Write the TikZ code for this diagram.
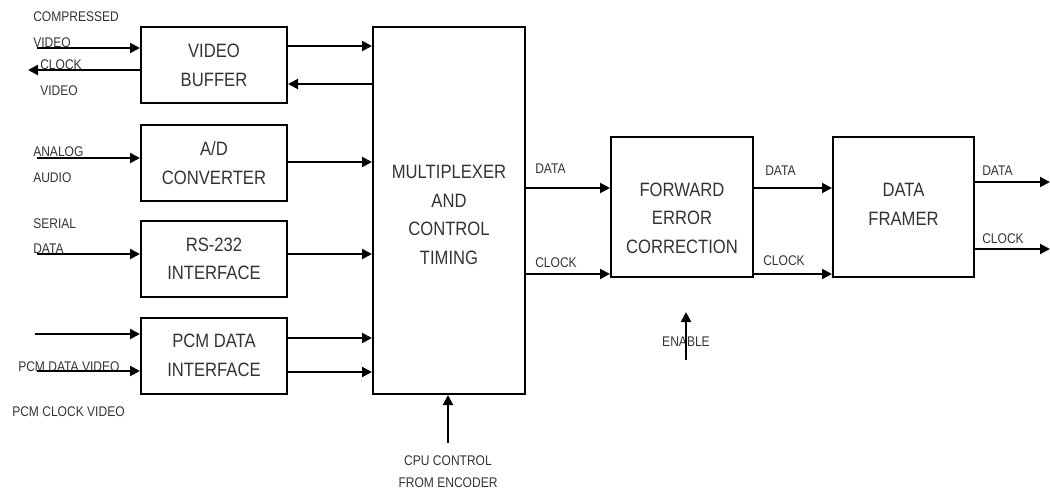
\documentclass[tikz,border=0pt]{standalone}
\usepackage{fontspec}
\setmainfont{Liberation Sans}[FakeStretch=0.86]
\usetikzlibrary{arrows.meta}

\begin{document}
\begin{tikzpicture}[x=0.75pt, y=-0.75pt,
  inside/.style={align=center, inner sep=0pt, font=\fontsize{14.5}{21.5}\selectfont, text=black!80},
  block/.style={inside, draw=black, line width=1.5pt},
  side/.style={block, minimum width=109.5pt, minimum height=57pt},
  tag/.style={anchor=west, inner sep=0pt, font=\fontsize{10.5}{12}\selectfont, text=black!80},
  sig/.style={line width=1.5pt, -{Triangle[length=7.5pt,width=7.5pt]}}
]
\useasboundingbox (0,0) rectangle (1050,492);
\node[side] (vbuf) at (214,65.5) {VIDEO\\BUFFER};
\node[side] (adc) at (214,163) {A/D\\CONVERTER};
\node[side] (rsif) at (214,259) {RS-232\\INTERFACE};
\node[side] (pcmif) at (214,355.5) {PCM DATA\\INTERFACE};
\node[block, minimum width=114pt, minimum height=275.25pt,
  label={[inside, yshift=-3.4pt]center:MULTIPLEXER\\AND\\CONTROL\\TIMING}] (mux) at (449,210.5) {};
\node[block, minimum width=106.5pt, minimum height=105pt,
  label={[inside, yshift=-8.5pt]center:FORWARD\\ERROR\\CORRECTION}] (fec) at (682,207) {};
\node[block, minimum width=105.75pt, minimum height=105pt,
  label={[inside, yshift=2.2pt]center:DATA\\FRAMER}] (dfr) at (903.5,207) {};
\node[tag] (l1) at (33,17) {COMPRESSED};
\node[tag] (l2) at (33,43) {VIDEO};
\node[tag] (l3) at (40,65) {CLOCK};
\node[tag] (l4) at (40,91) {VIDEO};
\node[tag] (l5) at (33,152) {ANALOG};
\node[tag] (l6) at (33,178) {AUDIO};
\node[tag] (l7) at (33,223.5) {SERIAL};
\node[tag] (l8) at (33,249) {DATA};
\node[tag] (l9) at (18,367) {PCM DATA VIDEO};
\node[tag] (l10) at (12,412) {PCM CLOCK VIDEO};
\node[tag] (l11) at (535,169) {DATA};
\node[tag] (l12) at (535,263) {CLOCK};
\node[tag] (l13) at (765,171) {DATA};
\node[tag] (l14) at (763,261) {CLOCK};
\node[tag] (l15) at (982,171) {DATA};
\node[tag] (l16) at (982,239) {CLOCK};
\node[tag, anchor=center] (l17) at (686,342) {ENABLE};
\node[tag, anchor=center] (l18) at (448,461) {CPU CONTROL};
\node[tag, anchor=center] (l19) at (448,483) {FROM ENCODER};
\coordinate (vin) at (37,48);
\coordinate (vclk) at (28,70);
\coordinate (ain) at (37,158);
\coordinate (sin) at (37,254);
\coordinate (pin1) at (35,334);
\coordinate (pin2) at (37,371);
\coordinate (cpu) at (448,443);
\coordinate (ena) at (686,360);
\coordinate (ena2) at (686,312);
\coordinate (dout) at (1050,182);
\coordinate (cout) at (1050,249);
\draw[sig] (vin) -- (vbuf.west |- vin);
\draw[sig] (vbuf.west |- vclk) -- (vclk);
\draw[sig] (vbuf.east |- 0,46) -- (mux.west |- 0,46);
\draw[sig] (mux.west |- 0,84) -- (vbuf.east |- 0,84);
\draw[sig] (ain) -- (adc.west |- ain);
\draw[sig] (adc.east |- 0,162) -- (mux.west |- 0,162);
\draw[sig] (sin) -- (rsif.west |- sin);
\draw[sig] (rsif.east |- sin) -- (mux.west |- sin);
\draw[sig] (pin1) -- (pcmif.west |- pin1);
\draw[sig] (pin2) -- (pcmif.west |- pin2);
\draw[sig] (pcmif.east |- 0,338) -- (mux.west |- 0,338);
\draw[sig] (pcmif.east |- 0,372) -- (mux.west |- 0,372);
\draw[sig] (cpu) -- (mux.south -| cpu);
\draw[sig] (mux.east |- 0,188) -- (fec.west |- 0,188);
\draw[sig] (mux.east |- 0,274) -- (fec.west |- 0,274);
\draw[sig] (fec.east |- 0,188) -- (dfr.west |- 0,188);
\draw[sig] (fec.east |- 0,274) -- (dfr.west |- 0,274);
\draw[sig] (ena) -- (ena2);
\draw[sig] (dfr.east |- dout) -- (dout);
\draw[sig] (dfr.east |- cout) -- (cout);
\end{tikzpicture}
\end{document}
